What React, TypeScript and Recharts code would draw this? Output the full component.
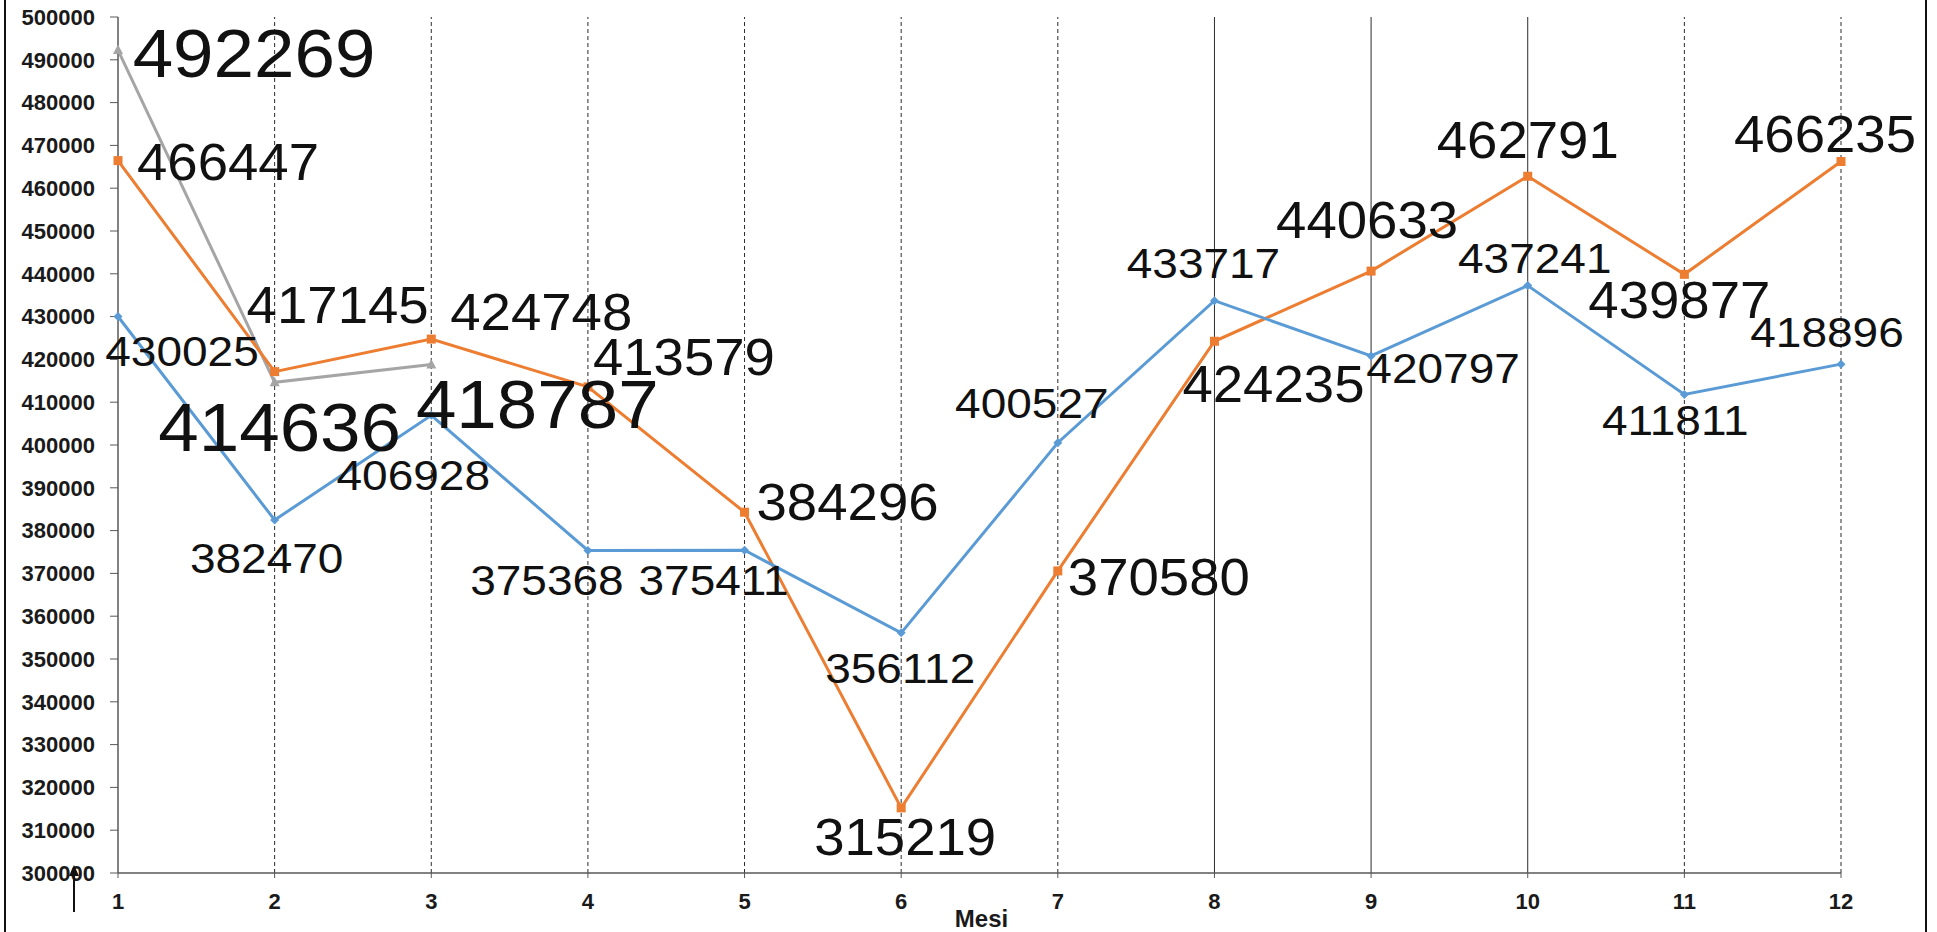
import { LineChart, Line, XAxis, YAxis, ReferenceLine, LabelList } from 'recharts'

// months on the x axis
const mesi = [1, 2, 3, 4, 5, 6, 7, 8, 9, 10, 11, 12]

// series values, one per month
const serieBlu = [430025, 382470, 406928, 375368, 375411, 356112, 400527, 433717, 420797, 437241, 411811, 418896]
const serieArancio = [466447, 417145, 424748, 413579, 384296, 315219, 370580, 424235, 440633, 462791, 439877, 466235]
const serieGrigio = [492269, 414636, 418787]

const yTicks = [
  300000, 310000, 320000, 330000, 340000, 350000, 360000, 370000, 380000, 390000, 400000,
  410000, 420000, 430000, 440000, 450000, 460000, 470000, 480000, 490000, 500000,
]

// months whose vertical gridline is solid (the rest are dashed)
const mesiLineaPiena = [8, 9, 10]

const FONT = "'Liberation Sans', Arial, Helvetica, sans-serif"
const C = {
  blu: '#5B9BD5',
  arancio: '#ED7D31',
  grigio: '#A5A5A5',
  asse: '#595959',
  griglia: '#2b2b2b',
  testo: '#111',
}

// label placement relative to each point: [dx to text centre, dy to baseline]
const offBlu: [number, number][] = [
  [64, 50], [-8, 53], [-18, 75], [-41, 45], [-31, 45], [-1, 50],
  [-26, -25], [-11, -23], [72, 27], [7, -13], [-9, 41], [-14, -17],
]
const offArancio: [number, number][] = [
  [110, 19], [63, -49], [110, -9], [96, -12], [103, 8], [4, 47],
  [101, 24], [59, 61], [-4, -33], [0, -18], [-5, 44], [-16, -10],
]
const offGrigio: [number, number][] = [[136, 27], [5, 69], [106, 63]]

const data = mesi.map((m, i) => ({
  mese: m,
  blu: serieBlu[i],
  arancio: serieArancio[i],
  grigio: i < serieGrigio.length ? serieGrigio[i] : null,
}))

function makeLabel(offsets: [number, number][], size: number) {
  return (props: any) => {
    const { x, y, value, index } = props
    if (value == null || x == null || y == null) return null
    const [dx, dy] = offsets[index] ?? [0, -10]
    return (
      <text
        x={0}
        y={0}
        transform={`translate(${x + dx},${y + dy}) scale(1.07,1)`}
        textAnchor="middle"
        fontFamily={FONT}
        fontSize={size}
        fill={C.testo}
      >
        {value}
      </text>
    )
  }
}

const DotDiamond = (props: any) => {
  const { cx, cy, value } = props
  if (value == null || cx == null) return null
  const r = 4.5
  return <path d={`M${cx},${cy - r}L${cx + r},${cy}L${cx},${cy + r}L${cx - r},${cy}Z`} fill={C.blu} />
}

const DotSquare = (props: any) => {
  const { cx, cy, value } = props
  if (value == null || cx == null) return null
  return <rect x={cx - 4.5} y={cy - 4.5} width={9} height={9} fill={C.arancio} />
}

const DotTriangle = (props: any) => {
  const { cx, cy, value } = props
  if (value == null || cx == null) return null
  return <path d={`M${cx},${cy - 5.5}L${cx + 5},${cy + 4}L${cx - 5},${cy + 4}Z`} fill={C.grigio} />
}

const tickStyle = { fill: '#1a1a1a', fontSize: 22, fontWeight: 700, fontFamily: FONT }

export default function App() {
  return (
    <div style={{ position: 'absolute', left: 0, top: 0, width: 1937, height: 932, background: '#fff' }}>
      <LineChart width={1937} height={932} data={data} margin={{ top: 17, right: 96, bottom: 0, left: 0 }}>
        <XAxis
          dataKey="mese"
          type="number"
          domain={[1, 12]}
          ticks={mesi}
          interval={0}
          height={59}
          tick={tickStyle}
          tickSize={5}
          tickMargin={15}
          stroke={C.asse}
          axisLine={{ stroke: C.asse, strokeWidth: 1.5 }}
          tickLine={{ stroke: C.asse }}
          label={{
            content: (p: any) => {
              const vb = p.viewBox
              return (
                <text
                  x={vb.x + vb.width / 2 + 2}
                  y={vb.y + 54}
                  textAnchor="middle"
                  fontFamily={FONT}
                  fontSize={24}
                  fontWeight={700}
                  fill="#1a1a1a"
                >
                  Mesi
                </text>
              )
            },
          }}
        />
        <YAxis
          type="number"
          domain={[300000, 500000]}
          ticks={yTicks}
          interval={0}
          width={118}
          tick={tickStyle}
          tickSize={8}
          tickMargin={15}
          axisLine={{ stroke: C.asse, strokeWidth: 1.5 }}
          tickLine={{ stroke: C.asse }}
        />

        {mesi.slice(1).map((m) => (
          <ReferenceLine
            key={m}
            x={m}
            stroke={C.griglia}
            strokeWidth={1}
            strokeDasharray={mesiLineaPiena.includes(m) ? undefined : '4 3'}
          />
        ))}

        <Line
          type="linear"
          dataKey="grigio"
          stroke={C.grigio}
          strokeWidth={3}
          dot={<DotTriangle />}
          activeDot={false}
          connectNulls={false}
          isAnimationActive={false}
        >
          <LabelList dataKey="grigio" content={makeLabel(offGrigio, 68)} />
        </Line>
        <Line
          type="linear"
          dataKey="arancio"
          stroke={C.arancio}
          strokeWidth={3}
          dot={<DotSquare />}
          activeDot={false}
          isAnimationActive={false}
        >
          <LabelList dataKey="arancio" content={makeLabel(offArancio, 51)} />
        </Line>
        <Line
          type="linear"
          dataKey="blu"
          stroke={C.blu}
          strokeWidth={3}
          dot={<DotDiamond />}
          activeDot={false}
          isAnimationActive={false}
        >
          <LabelList dataKey="blu" content={makeLabel(offBlu, 43)} />
        </Line>
      </LineChart>

      {/* frame edges and the small arrow under the y axis */}
      <div style={{ position: 'absolute', left: 4, top: 0, width: 2, height: 932, background: '#111' }} />
      <div style={{ position: 'absolute', left: 1925, top: 0, width: 2, height: 932, background: '#111' }} />
      <svg style={{ position: 'absolute', left: 64, top: 862, width: 20, height: 56 }}>
        <line x1={10} y1={10} x2={10} y2={50} stroke="#111" strokeWidth={2} />
        <path d="M10,3L15,14L5,14Z" fill="#111" />
      </svg>
    </div>
  )
}
